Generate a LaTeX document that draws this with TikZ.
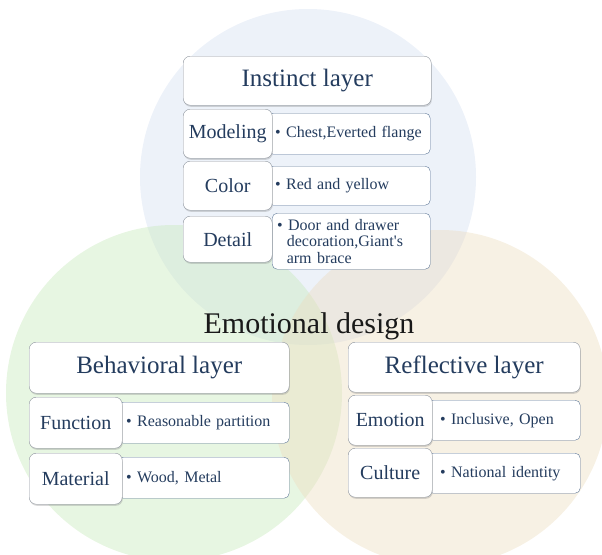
\documentclass[tikz,border=0pt]{standalone}
\usepackage{fontspec}
\setmainfont{Liberation Serif}
\usetikzlibrary{shadows}

\definecolor{instinctfill}{HTML}{D3DFF1}
\definecolor{behavfill}{HTML}{C7E9BB}
\definecolor{reflectfill}{HTML}{EDDDBF}
\definecolor{boxline}{HTML}{8C939C}
\definecolor{itemline}{HTML}{5F7898}
\definecolor{textnavy}{HTML}{243C5E}

\tikzset{
    layerbox/.style={draw=boxline, fill=white, rounded corners=7pt, anchor=north west,
        inner sep=0pt, minimum width=#1, minimum height=49pt, text=textnavy,
        font=\fontsize{25}{28}\selectfont,
        drop shadow={shadow xshift=0.6pt, shadow yshift=-1.6pt, opacity=0.3}},
    tagbox/.style={draw=boxline, fill=white, rounded corners=7pt, anchor=north west,
        inner sep=0pt, minimum width=#1, minimum height=49pt, text=textnavy,
        font=\fontsize{20}{22}\selectfont,
        drop shadow={shadow xshift=0.6pt, shadow yshift=-1.6pt, opacity=0.3}},
    itembox/.style 2 args={draw=itemline, fill=white, rounded corners=5pt, anchor=north west,
        align=left, text width=#1, inner xsep=#2, inner ysep=2pt, minimum height=40pt,
        text=textnavy, font=\fontsize{16}{16.5}\selectfont}
}

\newcommand{\bul}{\textbullet\ }
\newcommand{\hang}{\hspace*{0.6em}}

\begin{document}
\begin{tikzpicture}[x=1pt, y=-1pt]
    \useasboundingbox (0,0) rectangle (602,554);

    \fill[instinctfill, fill opacity=0.42] (308,177) circle [radius=168];
    \fill[behavfill, fill opacity=0.42] (174,393) circle [radius=168];
    \fill[reflectfill, fill opacity=0.42] (440,398) circle [radius=168];

    \node[font=\fontsize{30}{32}\selectfont, text=black!90] (design) at (309,326) {Emotional design};

    \begin{scope}
        \coordinate (I0) at (183,56);
        \node[layerbox=248pt] (instinct) at (I0) {Instinct layer};
        \node[itembox={148pt}{7pt}, minimum height=41pt] (modelingtxt) at (268,113) {\bul Chest,Everted flange};
        \node[tagbox=89pt] (modeling) at (183,109) {Modeling};
        \node[itembox={148pt}{7pt}, minimum height=39pt] (colortxt) at (268,166) {\bul Red and yellow};
        \node[tagbox=89pt] (color) at (183,161) {Color};
        \node[itembox={148pt}{5pt}, minimum height=56pt] (detailtxt) at (272,213)
            {\bul Door and drawer\\\hang decoration,Giant\textquotesingle s\\\hang arm brace};
        \node[tagbox=89pt, minimum height=46pt] (detail) at (183,216) {Detail};
    \end{scope}

    \begin{scope}
        \coordinate (B0) at (29,342);
        \node[layerbox=260pt, minimum height=51pt] (behavioral) at (B0) {Behavioral layer};
        \node[itembox={155pt}{8pt}, minimum height=41pt] (functiontxt) at (118,402) {\bul Reasonable partition};
        \node[tagbox=93pt, minimum height=51pt] (function) at (29,397) {Function};
        \node[itembox={155pt}{8pt}, minimum height=41pt] (materialtxt) at (118,457) {\bul Wood, Metal};
        \node[tagbox=93pt, minimum height=51pt] (material) at (29,453) {Material};
    \end{scope}

    \begin{scope}
        \coordinate (R0) at (348,342);
        \node[layerbox=232pt, minimum height=50pt] (reflective) at (R0) {Reflective layer};
        \node[itembox={128pt}{12pt}] (emotiontxt) at (428,400) {\bul Inclusive, Open};
        \node[tagbox=84pt, minimum height=50pt] (emotion) at (348,395) {Emotion};
        \node[itembox={128pt}{12pt}] (culturetxt) at (428,453) {\bul National identity};
        \node[tagbox=84pt] (culture) at (348,448) {Culture};
    \end{scope}
\end{tikzpicture}
\end{document}
